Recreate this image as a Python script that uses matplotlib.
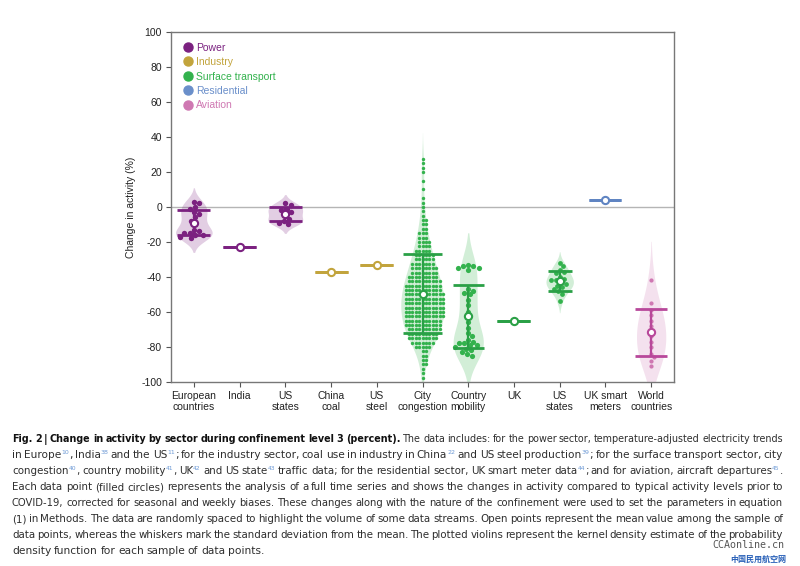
import re
import numpy as np
import matplotlib.pyplot as plt
from matplotlib.lines import Line2D

# ---- data ----
categories = ["European\ncountries", "India", "US\nstates", "China\ncoal", "US\nsteel",
              "City\ncongestion", "Country\nmobility", "UK", "US\nstates",
              "UK smart\nmeters", "World\ncountries"]
sector_of = ["Power", "Power", "Power", "Industry", "Industry",
             "Surface transport", "Surface transport", "Surface transport",
             "Surface transport", "Residential", "Aviation"]
sectors = ["Power", "Industry", "Surface transport", "Residential", "Aviation"]

europe = [3, 2, 0, -1, -3, -4, -6, -8, -10, -13, -14, -15, -15, -16, -16, -17, -18]
india = [-23]
us_power = [2, 1, -1, -2, -3, -5, -7, -8, -9, -10]
china_coal = [-37]
us_steel = [-33]
city_levels = [27.5, 25, 22.5, 20, 15, 10, 5, 2.5, 0,
               -2.5, -5, -7.5, -10, -12.5, -15, -17.5, -20, -22.5, -25,
               -27.5, -30, -32.5, -35, -37.5, -40, -42.5, -45, -47.5, -50,
               -52.5, -55, -57.5, -60, -62.5, -65, -67.5, -70, -72.5, -75,
               -77.5, -80, -82.5, -85, -87.5, -90, -92.5, -95, -97.5]
city_counts = [1, 1, 1, 1, 1, 1, 1, 1, 1,
               1, 1, 2, 2, 2, 3, 3, 4, 4, 5,
               6, 6, 7, 8, 8, 9, 10, 11, 11, 12,
               12, 12, 12, 12, 12, 11, 11, 10, 9, 9,
               7, 5, 2, 2, 2, 2, 1, 1, 1]
city = list(np.repeat(city_levels, city_counts))
mobility = [-33, -34, -34, -35, -35, -36, -47, -48, -49, -50, -53, -56, -60, -63, -66,
            -69, -72, -74, -76, -77, -78, -78, -79, -79, -80, -81, -82, -83, -84, -85]
uk = [-65]
us_traffic = [-32, -34, -36, -37, -38, -40, -41, -42, -42, -43, -44, -45, -46, -47, -48, -50, -54]
uk_meters = [4]
world = [-42, -55, -59, -62, -65, -68, -71, -74, -77, -80, -84, -86, -88, -91]

groups = [europe, india, us_power, china_coal, us_steel, city, mobility,
          uk, us_traffic, uk_meters, world]

# ---- styles ----
dot_color = {"Power": "#7b2180", "Industry": "#c2a43c", "Surface transport": "#33b24d",
             "Residential": "#6a8fca", "Aviation": "#cf78b2"}
bar_color = {"Power": "#7b2180", "Industry": "#c2a43c", "Surface transport": "#2aa046",
             "Residential": "#5f84c2", "Aviation": "#b8489a"}
violin_w = [0.8, 0, 0.76, 0, 0, 0.95, 0.66, 0, 0.6, 0, 0.64]
bw_scale = [1, 1, 1, 1, 1, 1, 1, 1, 1, 1, 1.4]
cap_w = [0.72, 0.72, 0.72, 0.72, 0.72, 0.87, 0.68, 0.72, 0.53, 0.7, 0.7]
dot_px = [5.4, 5, 5.4, 5, 5, 3.4, 5.2, 5, 4.8, 5, 4.2]

fig = plt.figure(figsize=(8, 5.66), dpi=100)
ax = fig.add_axes([0.21375, 0.3251, 0.62875, 0.6184])
ax.set_xlim(-0.5, 10.5)
ax.set_ylim(-100, 100)
sx = 503 / 11.0   # px per category unit
sy = 350 / 200.0  # px per y unit


def swarm(vals, d):
    placed_x, placed_y, out = [], [], []
    step = d / 4.0
    cands = [0.0]
    for k in range(1, 80):
        cands += [k * step, -k * step]
    for v in vals:
        y = v * sy
        px = np.array(placed_x)
        py = np.array(placed_y)
        for c in cands:
            if len(px) == 0 or np.all((px - c) ** 2 + (py - y) ** 2 >= d * d * 0.98):
                placed_x.append(c)
                placed_y.append(y)
                out.append(c / sx)
                break
    return np.array(out)


for i, vals in enumerate(groups):
    sec = sector_of[i]
    vals = np.array(vals, dtype=float)
    mean = vals.mean()
    sd = vals.std()
    if len(vals) > 2:
        bw = sd * len(vals) ** (-0.2) * bw_scale[i]
        grid = np.linspace(vals.min() - 2 * bw, vals.max() + 2 * bw, 300)
        dens = np.exp(-0.5 * ((grid[:, None] - vals[None, :]) / bw) ** 2).sum(axis=1)
        half = violin_w[i] / 2 * dens / dens.max()
        ax.fill_betweenx(grid, i - half, i + half, color=dot_color[sec], alpha=0.22,
                         lw=0, zorder=1)
        offs = swarm(vals, dot_px[i])
        ax.scatter(i + offs, vals, s=(dot_px[i] * 0.72) ** 2, color=dot_color[sec],
                   lw=0, zorder=3)
    lc = bar_color[sec]
    ax.plot([i, i], [mean - sd, mean + sd], color=lc, lw=1.6, zorder=4,
            solid_capstyle='butt')
    for yv in (mean - sd, mean + sd):
        ax.plot([i - cap_w[i] / 2, i + cap_w[i] / 2], [yv, yv], color=lc, lw=2.0,
                zorder=4, solid_capstyle='butt')
    ax.plot([i], [mean], marker='o', ms=5.2, mfc='white', mec=lc, mew=1.5, zorder=5)

ax.axhline(0, color='#b5b5b5', lw=1, zorder=0)

font = 'Liberation Sans'
ax.set_xticks(range(len(categories)))
ax.set_xticklabels(categories, fontsize=7.5, family=font, color='#222222', linespacing=1.15)
ax.set_yticks(np.arange(-100, 101, 20))
ax.set_yticklabels([str(v) for v in range(-100, 101, 20)], fontsize=7.5, family=font,
                   color='#222222')
ax.tick_params(axis='both', direction='out', length=3.5, width=0.8, color='#555555', pad=3)
ax.set_ylabel("Change in activity (%)", fontsize=7.5, family=font, color='#222222',
              labelpad=4)
for s in ax.spines.values():
    s.set_color('#777777')
    s.set_linewidth(1.0)

handles = [Line2D([], [], marker='o', ls='', color=dot_color[s], ms=6.5) for s in sectors]
ax.legend(handles, sectors, loc='upper left', bbox_to_anchor=(0.006, 0.99), frameon=False,
          labelcolor=[dot_color[s] for s in sectors], handletextpad=0.25,
          labelspacing=0.42, handlelength=1.2, borderaxespad=0.3,
          prop={'family': font, 'size': 7.5})

# ---- caption ----
bold_words = 13
caption = [
    "Fig. 2 | Change in activity by sector during confinement level 3 (percent). The data includes: for the power sector, temperature-adjusted electricity trends",
    "in Europe^10, India^38 and the US^11; for the industry sector, coal use in industry in China^22 and US steel production^39; for the surface transport sector, city",
    "congestion^40, country mobility^41, UK^42 and US state^43 traffic data; for the residential sector, UK smart meter data^44; and for aviation, aircraft departures^45.",
    "Each data point (filled circles) represents the analysis of a full time series and shows the changes in activity compared to typical activity levels prior to",
    "COVID-19, corrected for seasonal and weekly biases. These changes along with the nature of the confinement were used to set the parameters in equation",
    "(1) in Methods. The data are randomly spaced to highlight the volume of some data streams. Open points represent the mean value among the sample of",
    "data points, whereas the whiskers mark the standard deviation from the mean. The plotted violins represent the kernel density estimate of the probability",
    "density function for each sample of data points.",
]
cap_font = 'Liberation Sans Narrow'
cap_size = 7.7
W, H = 800.0, 566.0
x0, x1 = 12.0, 783.0
y_first, dy = 438.0, 16.0
renderer = fig.canvas.get_renderer()


def build_line(li, line, size):
    items = []
    for wi, word in enumerate(line.split(' ')):
        parts = re.split(r'\^(\d+)', word)
        objs = []
        for pi, p in enumerate(parts):
            if p == '':
                continue
            sup = pi % 2 == 1
            bold = li == 0 and wi < bold_words
            t = fig.text(0, 0, p, family=cap_font,
                         fontsize=size * (0.6 if sup else 1.0),
                         weight='bold' if bold else 'normal',
                         color='#6f9bd6' if sup else ('#111111' if bold else '#2e2e2e'),
                         va='baseline', ha='left')
            w = t.get_window_extent(renderer).width
            objs.append((t, w, sup))
        items.append(objs)
    return items


for li, line in enumerate(caption):
    size = cap_size
    while True:
        items = build_line(li, line, size)
        widths = [sum(o[1] for o in objs) for objs in items]
        min_gap = renderer.points_to_pixels(size) * 0.2
        if sum(widths) + min_gap * (len(items) - 1) <= x1 - x0 or size < 6:
            break
        for objs in items:
            for o in objs:
                o[0].remove()
        size *= 0.98
    if li < len(caption) - 1:
        gap = (x1 - x0 - sum(widths)) / (len(items) - 1)
    else:
        gap = renderer.points_to_pixels(size) * 0.25
    base = round(y_first + li * dy + 3.5)
    x = x0
    for objs, w in zip(items, widths):
        xx = x
        for t, tw, sup in objs:
            t.set_position((xx / W, 1 - (base - (4.0 if sup else 0)) / H))
            xx += tw
        x += w + gap

fig.text(784 / W, 1 - 548 / H, "CCAonline.cn", family='DejaVu Sans Mono', fontsize=7.2,
         color='#555555', ha='right', va='baseline')
fig.text(786 / W, 1 - 562 / H, "中国民用航空网", family='Noto Sans CJK SC',
         fontsize=5.8, weight='bold', color='#2860b8', ha='right', va='baseline')

fig.savefig("out.png", dpi=100)
